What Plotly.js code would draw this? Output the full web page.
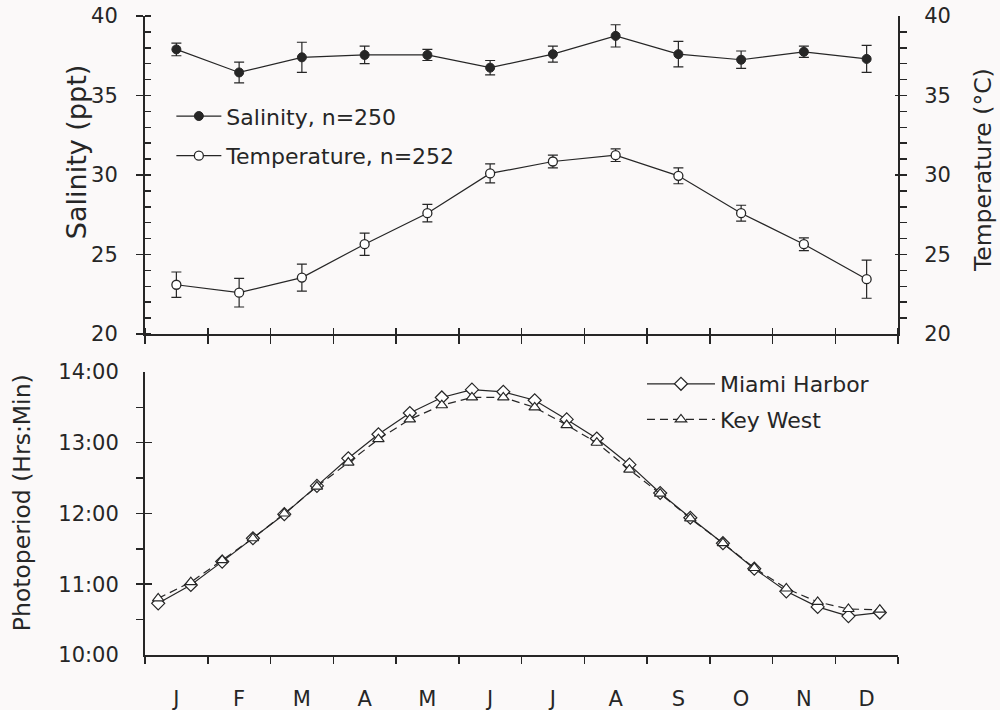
<!DOCTYPE html>
<html>
<head>
<meta charset="utf-8">
<script src="https://cdn.plot.ly/plotly-3.0.1.min.js"></script>
<style>
  html, body { margin: 0; padding: 0; background: #fbf9f9; }
  #chart { width: 1000px; height: 710px; }
</style>
</head>
<body>
<div id="chart"></div>
<script>
// ---- Data ----
const months = ['J','F','M','A','M','J','J','A','S','O','N','D'];
const salinity    = [37.9, 36.45, 37.4, 37.55, 37.55, 36.75, 37.6, 38.75, 37.6, 37.25, 37.75, 37.3];
const salinityErr = [0.4, 0.65, 0.95, 0.55, 0.35, 0.45, 0.5, 0.7, 0.8, 0.55, 0.35, 0.85];
const temperature    = [23.1, 22.6, 23.55, 25.65, 27.6, 30.1, 30.85, 31.25, 29.95, 27.6, 25.65, 23.45];
const temperatureErr = [0.8, 0.9, 0.85, 0.7, 0.55, 0.6, 0.4, 0.4, 0.5, 0.5, 0.4, 1.2];

// photoperiod sample dates, in months from 1 Jan
const photoMonth = [0.21, 0.73, 1.23, 1.72, 2.22, 2.74, 3.24, 3.72, 4.22, 4.73, 5.21, 5.71,
                    6.21, 6.72, 7.2, 7.72, 8.21, 8.69, 9.21, 9.71, 10.22, 10.72, 11.21, 11.71];
// photoperiod in decimal hours
const miamiHours = [10.73, 10.99, 11.32, 11.65, 11.99, 12.39, 12.78, 13.12, 13.42, 13.64, 13.75, 13.72,
                    13.60, 13.33, 13.06, 12.69, 12.29, 11.94, 11.58, 11.22, 10.90, 10.68, 10.55, 10.60];
const keyWestHours = [10.80, 11.03, 11.34, 11.65, 12.00, 12.38, 12.72, 13.05, 13.33, 13.53, 13.64, 13.64,
                      13.50, 13.25, 13.00, 12.62, 12.28, 11.93, 11.58, 11.23, 10.94, 10.75, 10.65, 10.64];
const photoTickVals = [10, 11, 12, 13, 14];
const photoTickText = ['10:00', '11:00', '12:00', '13:00', '14:00'];

// ---- Styling ----
const FONT = 'DejaVu Sans, Liberation Sans, Arial, sans-serif';
const INK = '#262626';
const BG = '#fbf9f9';
const monthCenters = months.map((m, i) => i + 0.5);

const traces = [
  {
    x: monthCenters, y: salinity, name: 'Salinity, n=250',
    type: 'scatter', mode: 'lines+markers', xaxis: 'x', yaxis: 'y',
    line: {color: INK, width: 1.2},
    marker: {symbol: 'circle', size: 9, color: INK, line: {color: INK, width: 1}},
    error_y: {type: 'data', array: salinityErr, visible: true, color: INK, thickness: 1.2, width: 5},
    legend: 'legend', legendgroup: 'a'
  },
  {
    x: monthCenters, y: temperature, name: 'Temperature, n=252',
    type: 'scatter', mode: 'lines+markers', xaxis: 'x', yaxis: 'y2',
    line: {color: INK, width: 1.2},
    marker: {symbol: 'circle', size: 9, color: '#ffffff', line: {color: INK, width: 1.3}},
    error_y: {type: 'data', array: temperatureErr, visible: true, color: INK, thickness: 1.2, width: 5},
    legend: 'legend', legendgroup: 'b'
  },
  {
    x: photoMonth, y: miamiHours, name: 'Miami Harbor',
    type: 'scatter', mode: 'lines+markers', xaxis: 'x2', yaxis: 'y3',
    line: {color: INK, width: 1.2},
    marker: {symbol: 'diamond', size: 10, color: '#ffffff', line: {color: INK, width: 1.2}},
    legend: 'legend2', legendgroup: 'c'
  },
  {
    x: photoMonth, y: keyWestHours, name: 'Key West',
    type: 'scatter', mode: 'lines+markers', xaxis: 'x2', yaxis: 'y3',
    line: {color: INK, width: 1.2, dash: '8px,5px'},
    marker: {symbol: 'triangle-up', size: 10, color: '#ffffff', line: {color: INK, width: 1.2}},
    legend: 'legend2', legendgroup: 'd'
  }
];

const axisBase = {
  showgrid: false, zeroline: false, showline: true,
  linecolor: INK, linewidth: 2, tickcolor: INK, tickwidth: 1.5,
  tickfont: {family: FONT, size: 21, color: INK}
};

const layout = {
  width: 1000, height: 710,
  paper_bgcolor: BG, plot_bgcolor: BG,
  margin: {l: 145, r: 102, t: 16, b: 55},
  font: {family: FONT, color: INK},
  xaxis: Object.assign({}, axisBase, {
    domain: [0, 1], anchor: 'y', range: [0, 12],
    tickmode: 'array', tickvals: [0,1,2,3,4,5,6,7,8,9,10,11,12],
    ticks: 'outside', ticklen: 8, showticklabels: false,
    minor: {ticks: 'inside', tickmode: 'linear', tick0: 0, dtick: 1, ticklen: 6, tickwidth: 1.5, tickcolor: INK}
  }),
  yaxis: Object.assign({}, axisBase, {
    domain: [0.5023, 1], anchor: 'x', range: [20, 40],
    tickmode: 'linear', tick0: 20, dtick: 5,
    ticks: 'outside', ticklen: 7, ticklabelstandoff: 14,
    minor: {ticks: 'inside', tickmode: 'linear', tick0: 20, dtick: 1, ticklen: 6, tickwidth: 1.5, tickcolor: INK}
  }),
  yaxis2: Object.assign({}, axisBase, {
    overlaying: 'y', side: 'right', anchor: 'x', range: [20, 40],
    tickmode: 'linear', tick0: 20, dtick: 5,
    ticks: 'inside', ticklen: 3, ticklabelstandoff: 20,
    minor: {ticks: 'outside', tickmode: 'linear', tick0: 20, dtick: 1, ticklen: 7, tickwidth: 1.5, tickcolor: INK}
  }),
  xaxis2: Object.assign({}, axisBase, {
    domain: [0, 1], anchor: 'y3', range: [0, 12],
    tickmode: 'array', tickvals: monthCenters, ticktext: months,
    ticks: 'outside', ticklen: 24, tickcolor: 'rgba(0,0,0,0)',
    minor: {ticks: 'outside', tickmode: 'linear', tick0: 0, dtick: 1, ticklen: 7, tickwidth: 1.5, tickcolor: INK}
  }),
  yaxis3: Object.assign({}, axisBase, {
    domain: [0, 0.4429], anchor: 'x2', range: [10, 14],
    tickmode: 'array', tickvals: photoTickVals, ticktext: photoTickText,
    ticks: 'inside', ticklen: 7, ticklabelstandoff: 20,
    minor: {ticks: 'outside', tickmode: 'linear', tick0: 10, dtick: 0.5, ticklen: 7, tickwidth: 1.5, tickcolor: INK}
  }),
  legend: {
    x: 0.035, y: 0.876, xanchor: 'left', yanchor: 'top',
    bgcolor: 'rgba(0,0,0,0)', borderwidth: 0,
    font: {family: FONT, size: 22, color: INK},
    itemwidth: 45, traceorder: 'grouped', tracegroupgap: 8
  },
  legend2: {
    x: 0.66, y: 0.457, xanchor: 'left', yanchor: 'top',
    bgcolor: 'rgba(0,0,0,0)', borderwidth: 0,
    font: {family: FONT, size: 22, color: INK},
    itemwidth: 68, traceorder: 'grouped', tracegroupgap: 4
  },
  annotations: [
    {text: 'Salinity (ppt)', xref: 'paper', yref: 'paper', x: -0.0916, y: 0.787,
     xanchor: 'center', yanchor: 'middle',
     textangle: -90, showarrow: false, font: {family: FONT, size: 27, color: INK}},
    {text: 'Temperature (°C)', xref: 'paper', yref: 'paper', x: 1.113, y: 0.759,
     xanchor: 'center', yanchor: 'middle',
     textangle: -90, showarrow: false, font: {family: FONT, size: 23.5, color: INK}},
    {text: 'Photoperiod (Hrs:Min)', xref: 'paper', yref: 'paper', x: -0.163, y: 0.238,
     xanchor: 'center', yanchor: 'middle',
     textangle: -90, showarrow: false, font: {family: FONT, size: 23.5, color: INK}}
  ]
};

Plotly.newPlot('chart', traces, layout, {displayModeBar: false, staticPlot: true});
</script>
</body>
</html>
